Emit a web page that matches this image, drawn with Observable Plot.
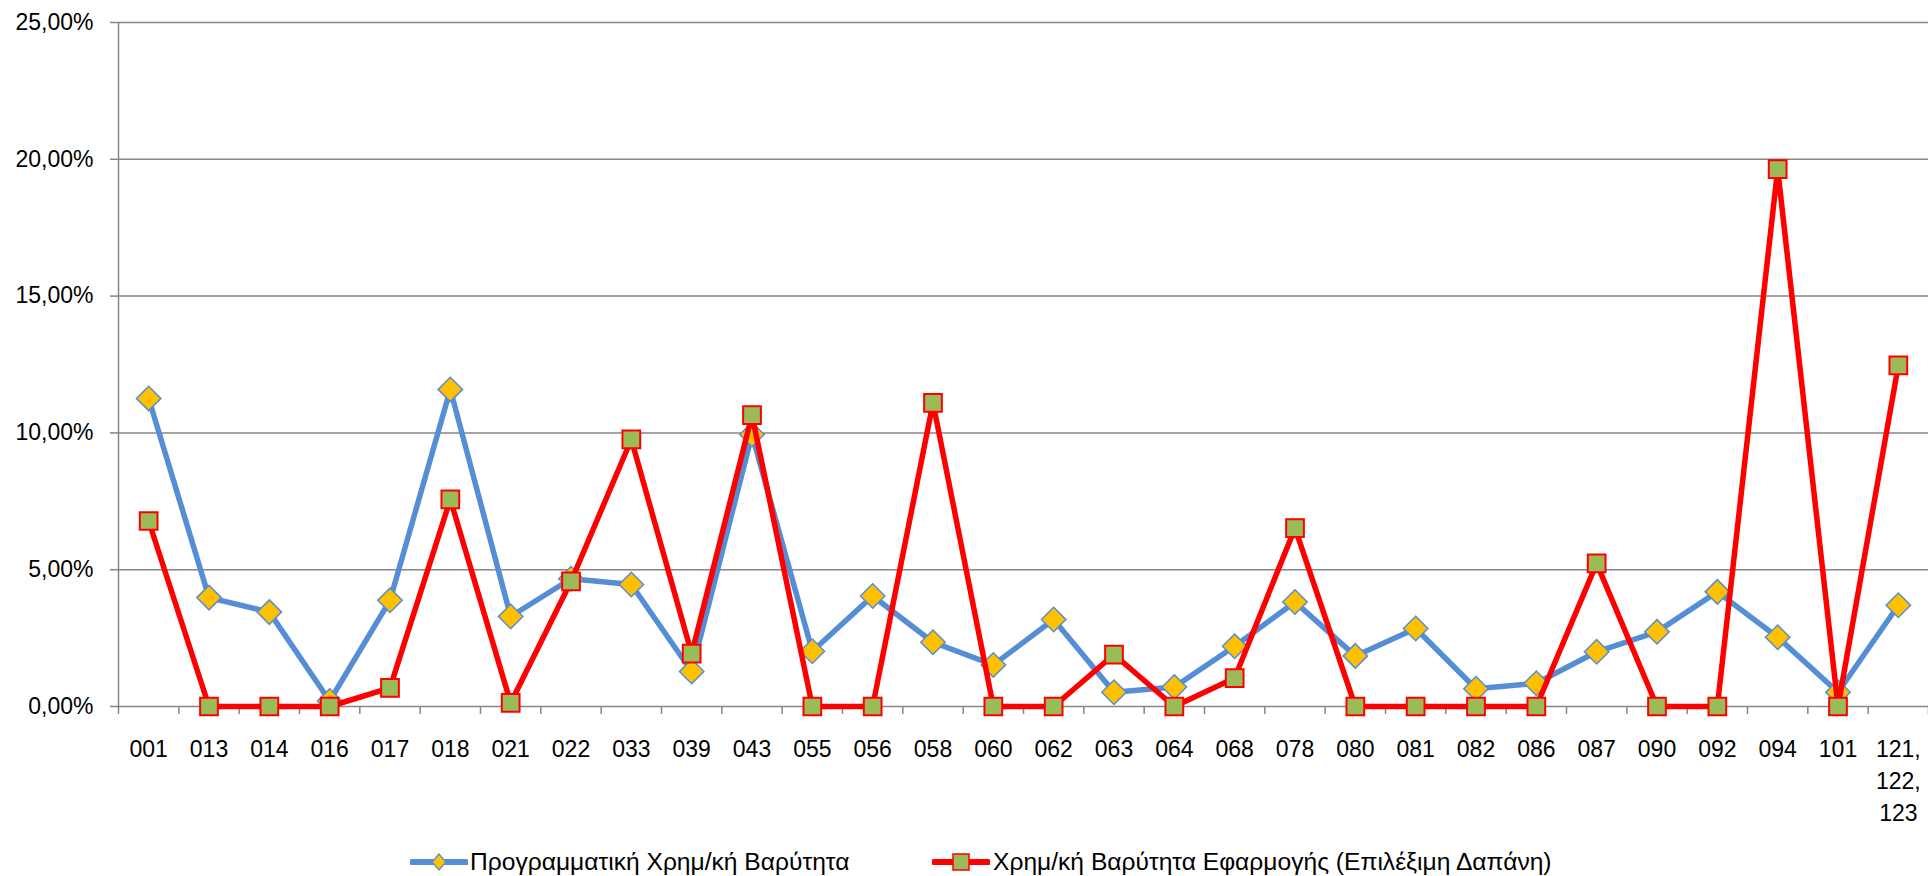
<!DOCTYPE html>
<html>
<head>
<meta charset="utf-8">
<script src="https://cdn.jsdelivr.net/npm/d3@7"></script>
<script src="https://cdn.jsdelivr.net/npm/@observablehq/plot@0.6"></script>
<style>
  html, body { margin: 0; padding: 0; background: #fff; }
  #wrap { position: relative; width: 1928px; height: 876px; overflow: hidden; }
  #legend { position: absolute; left: 0; top: 835px; width: 1928px; height: 41px; font-family: "Liberation Sans", Arial, sans-serif; font-size: 24.6px; color: #000; }
  .lg { position: absolute; white-space: nowrap; }
</style>
</head>
<body>
<div id="wrap">
  <div id="chart"></div>
  <div id="legend"></div>
</div>
<script>
// Categories (x axis tick labels)
const categories = ["001","013","014","016","017","018","021","022","033","039","043","055","056","058","060","062","063","064","068","078","080","081","082","086","087","090","092","094","101","121,\n122,\n123"];
// Series values in %
const programmatic = [11.26,3.98,3.45,0.2,3.88,11.59,3.29,4.67,4.46,1.28,9.94,2.02,4.04,2.35,1.52,3.18,0.52,0.71,2.2,3.82,1.85,2.85,0.65,0.85,2.0,2.73,4.19,2.53,0.52,3.70];
const implementation = [6.78,0,0,0,0.68,7.57,0.13,4.57,9.76,1.93,10.65,0,0,11.1,0,0,1.90,0,1.04,6.52,0,0,0,0,5.23,0,0,19.64,0,12.47];
// Y tick values
const yTicks = [0,5,10,15,20,25];
const seriesNames = ["Προγραμματική Χρημ/κή Βαρύτητα", "Χρημ/κή Βαρύτητα Εφαρμογής (Επιλέξιμη Δαπάνη)"];

const data = categories.map((c, i) => ({i, c, prog: programmatic[i], impl: implementation[i]}));
const idx = d3.range(categories.length);
const bounds = d3.range(categories.length + 1).map(i => i - 0.5);
const fmt = d => d.toFixed(2).replace(".", ",") + "%";
const grey = "#868686";
const blue = "#558ED5";
const red = "#FF0000";

const chart = Plot.plot({
  width: 1928,
  height: 835,
  marginLeft: 118,
  marginRight: 0,
  marginTop: 22,
  marginBottom: 129,
  style: {fontFamily: "Liberation Sans, Arial, sans-serif", fontSize: "23px", color: "#000", background: "#fff", overflow: "visible"},
  x: {type: "linear", domain: [-0.5, categories.length - 0.5], label: null},
  y: {domain: [0, 25], label: null},
  marks: [
    Plot.gridY(yTicks, {stroke: grey, strokeOpacity: 1, strokeWidth: 1.5}),
    Plot.axisY(yTicks, {tickSize: 8, tickPadding: 17, stroke: grey, strokeWidth: 1.5, tickFormat: fmt, fontSize: 23, label: null}),
    Plot.ruleX([-0.5], {y1: 0, y2: 25, stroke: grey, strokeWidth: 1.5}),
    Plot.axisX(bounds, {tickSize: 8, stroke: grey, strokeWidth: 1.5, tickFormat: () => "", label: null}),
    Plot.axisX(idx, {tickSize: 0, tickPadding: 27, tickFormat: i => categories[i], lineHeight: 1.41, fontSize: 23, label: null}),
    Plot.line(data, {x: "i", y: "prog", stroke: blue, strokeWidth: 5.5, strokeLinejoin: "miter"}),
    Plot.dot(data, {x: "i", y: "prog", symbol: "diamond2", r: 11, fill: "#FFC000", stroke: blue, strokeWidth: 1.5}),
    Plot.line(data, {x: "i", y: "impl", stroke: red, strokeWidth: 5.5, strokeLinejoin: "miter"}),
    Plot.dot(data, {x: "i", y: "impl", symbol: "square", r: 10, fill: "#9BBB59", stroke: red, strokeWidth: 2})
  ]
});
document.getElementById("chart").appendChild(chart);

// Legend
const legend = document.getElementById("legend");
function item(left, textLeft, marker, name) {
  const svg = d3.create("svg").attr("width", 58).attr("height", 24).attr("class", "lg")
    .style("left", left + "px").style("top", "15px");
  svg.append("line").attr("x1", 2).attr("x2", 56).attr("y1", 12).attr("y2", 12)
    .attr("stroke", marker === "diamond" ? blue : red).attr("stroke-width", 6).attr("stroke-linecap", "round");
  if (marker === "diamond") {
    svg.append("path").attr("d", "M29,4L36,12L29,20L22,12Z").attr("fill", "#FFC000").attr("stroke", blue).attr("stroke-width", 1.2);
  } else {
    svg.append("rect").attr("x", 21).attr("y", 4).attr("width", 16).attr("height", 16).attr("fill", "#9BBB59").attr("stroke", red).attr("stroke-width", 1.5);
  }
  legend.appendChild(svg.node());
  const t = document.createElement("div");
  t.className = "lg";
  t.style.left = textLeft + "px";
  t.style.top = "14px";
  t.style.lineHeight = "26px";
  t.textContent = name;
  legend.appendChild(t);
}
item(410, 470, "diamond", seriesNames[0]);
item(932, 993, "square", seriesNames[1]);
</script>
</body>
</html>
